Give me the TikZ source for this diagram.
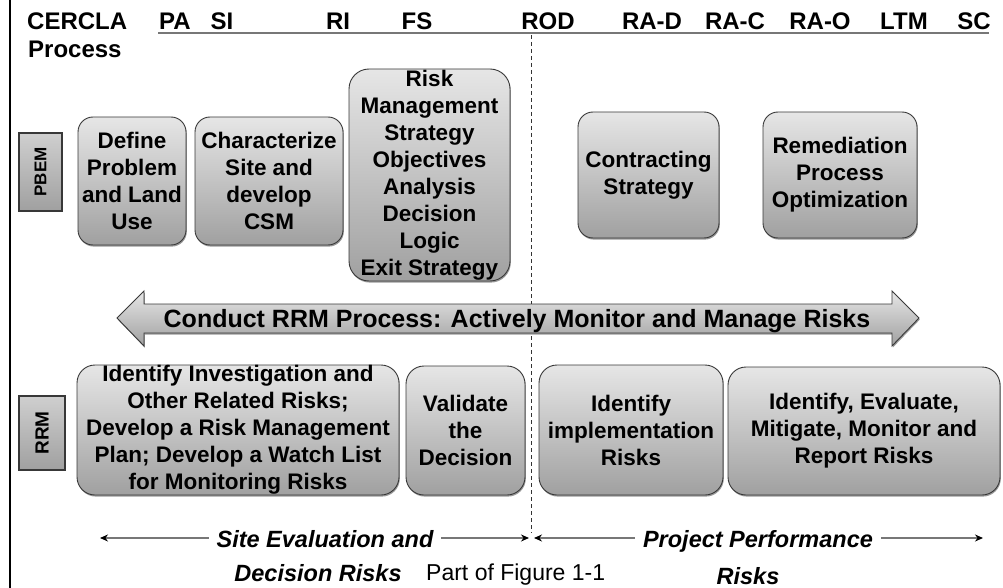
\documentclass[tikz,border=0pt]{standalone}
\usepackage{fontspec}
\setmainfont{Liberation Sans}
\usetikzlibrary{shadows,arrows.meta}
\definecolor{boxtop}{HTML}{E6E6E6}
\definecolor{boxbot}{HTML}{A0A0A0}
\definecolor{edgec}{HTML}{383838}
\definecolor{rulec}{HTML}{777777}
\begin{document}
\begin{tikzpicture}[x=1pt,y=-1pt,
  procbox/.style={draw=edgec, line width=0.9pt, rounded corners=15pt,
    top color=boxtop, bottom color=boxbot, align=center, inner sep=0pt,
    font=\bfseries\fontsize{22.5}{27}\selectfont,
    drop shadow={shadow xshift=0.8pt, shadow yshift=-1.6pt, fill=black, opacity=0.4}},
  tagbox/.style={draw=edgec, line width=1.2pt, top color=boxtop!90!black, bottom color=boxbot,
    inner sep=0pt, rotate=90},
  hdr/.style={font=\bfseries\fontsize{24}{28}\selectfont, anchor=base, inner sep=0pt},
  lbl/.style={font=\bfseries\itshape\fontsize{23.5}{30}\selectfont, anchor=base, inner sep=0pt},
  spanarrow/.style={draw=rulec, line width=1.3pt, {Stealth[length=8pt,width=7pt,black]}-{Stealth[length=8pt,width=7pt,black]}},
]
\useasboundingbox (0,0) rectangle (1003,588);

% left border
\coordinate (lbtop) at (9.5,0);
\coordinate (lbbot) at (9.5,588);
\draw[line width=2pt, black] (lbtop) -- (lbbot);

% header
\node[hdr, anchor=base west] (cercla) at (27,30) {CERCLA};
\node[hdr, anchor=base west] (process) at (28,58) {Process};
\node[hdr] (pa) at (175,30) {PA};
\node[hdr] (si) at (222,30) {SI};
\node[hdr] (ri) at (338,30) {RI};
\node[hdr] (fs) at (417,30) {FS};
\node[hdr] (rod) at (548,30) {ROD};
\node[hdr] (rad) at (652,30) {RA-D};
\node[hdr] (rac) at (735,30) {RA-C};
\node[hdr] (rao) at (820,30) {RA-O};
\node[hdr] (ltm) at (904,30) {LTM};
\node[hdr] (sc) at (974,30) {SC};
\coordinate (rulel) at (158,33);
\coordinate (ruler) at (989,33);
\draw[rulec, line width=1.5pt] (rulel) -- (ruler);

% dashed divider
\coordinate (dtop) at (531,35);
\coordinate (dbot) at (531,533);
\draw[black!80, line width=0.8pt, dash pattern=on 4pt off 3pt] (dtop) -- (dbot);

% row tags
\node[tagbox, minimum width=78pt, minimum height=43pt, font=\bfseries\fontsize{17}{19}\selectfont] (pbem) at (40.5,172) {PBEM};
\node[tagbox, minimum width=74pt, minimum height=46pt, font=\bfseries\fontsize{19}{21}\selectfont] (rrm) at (42,433) {RRM};

% PBEM row
\node[procbox, minimum width=108pt, minimum height=128pt] (b1) at (132,181) {Define\\Problem\\and Land\\Use};
\node[procbox, minimum width=148pt, minimum height=128pt] (b2) at (269,181) {Characterize\\Site and\\develop\\CSM};
\node[procbox, rounded corners=20pt, minimum width=161pt, minimum height=212pt] (b3) at (429.5,175) {Risk\\Management\\Strategy\\Objectives\\Analysis\\Decision\\Logic\\Exit Strategy};
\node[procbox, minimum width=141pt, minimum height=126pt] (b4) at (648.5,175) {Contracting\\Strategy};
\node[procbox, minimum width=154pt, minimum height=126pt] (b5) at (840,175) {Remediation\\Process\\Optimization};

% big double arrow
\draw[draw=edgec, line width=0.9pt, top color=boxtop, bottom color=boxbot,
  drop shadow={shadow xshift=0.8pt, shadow yshift=-1.6pt, fill=black, opacity=0.4}]
  (117,318) -- (144,291) -- (144,304) -- (892,304) -- (892,291) -- (919,318)
  -- (892,346) -- (892,333) -- (144,333) -- (144,346) -- cycle;
\node[font=\bfseries\fontsize{25}{30}\selectfont, anchor=base, inner sep=0pt] (rrmproc) at (517,327) {Conduct RRM Process: Actively Monitor and Manage Risks};

% RRM row
\node[procbox, rounded corners=18pt, minimum width=322pt, minimum height=130pt] (c1) at (238,430) {Identify Investigation and\\Other Related Risks;\\Develop a Risk Management\\Plan; Develop a Watch List\\for Monitoring Risks};
\node[procbox, rounded corners=18pt, minimum width=119pt, minimum height=129pt] (c2) at (465.5,430.5) {Validate\\the\\Decision};
\node[procbox, rounded corners=18pt, minimum width=184pt, minimum height=130pt] (c3) at (631,430) {Identify\\implementation\\Risks};
\node[procbox, rounded corners=18pt, minimum width=272pt, minimum height=128pt] (c4) at (864,431) {Identify, Evaluate,\\Mitigate, Monitor and\\Report Risks};

% bottom span arrows
\coordinate (sl) at (100,538);
\coordinate (sr) at (529,538);
\coordinate (pl) at (534,538);
\coordinate (pr) at (983,538);
\draw[spanarrow] (sl) -- (sr);
\draw[spanarrow] (pl) -- (pr);
\node[lbl, fill=white, inner xsep=8pt, inner ysep=2pt] (sel1) at (325,547) {Site Evaluation and};
\node[lbl] (sel2) at (318,581) {Decision Risks};
\node[anchor=base west, inner sep=0pt, font=\fontsize{23}{26}\selectfont] (fig) at (426,580) {Part of Figure 1-1};
\node[lbl, fill=white, inner xsep=8pt, inner ysep=2pt] (ppr1) at (758,547) {Project Performance};
\node[lbl] (ppr2) at (748,584) {Risks};
\end{tikzpicture}
\end{document}
